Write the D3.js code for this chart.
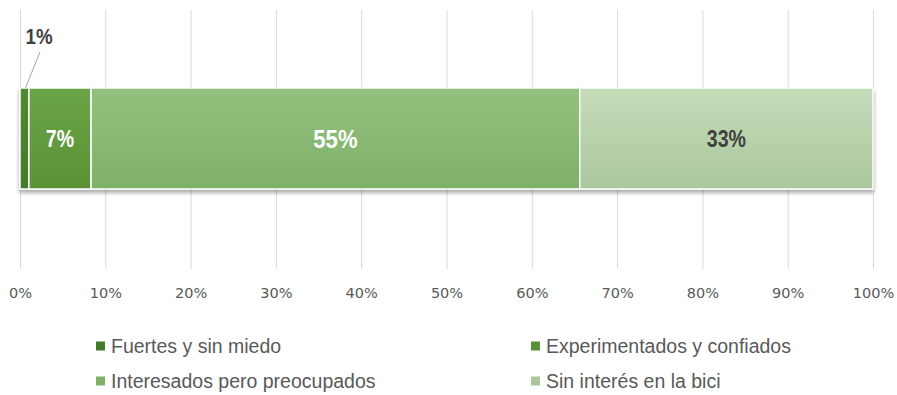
<!DOCTYPE html>
<html>
<head>
<meta charset="utf-8">
<script src="https://cdn.jsdelivr.net/npm/d3@7"></script>
<style>
  html, body { margin: 0; padding: 0; background: #fff; }
  svg { display: block; }
</style>
</head>
<body>
<svg id="chart" width="897" height="395"></svg>
<script>
// Cyclist typology shares (percent as labelled)
const categories = ["Fuertes y sin miedo", "Experimentados y confiados", "Interesados pero preocupados", "Sin interés en la bici"];
const values = [1, 7, 55, 33];
const tickValues = [0, 0.1, 0.2, 0.3, 0.4, 0.5, 0.6, 0.7, 0.8, 0.9, 1.0];
const colorsTop = ["#4f8a31", "#6aa546", "#92c17d", "#c5dcb9"];
const colorsBottom = ["#457a2a", "#5a9236", "#7fb169", "#aac79d"];
const labelColors = ["#404040", "#ffffff", "#ffffff", "#404040"];

const svg = d3.select("#chart");
const W = 897, H = 395;
const margin = { left: 20, right: 24 };

const x = d3.scaleLinear().domain([0, 1]).range([margin.left, W - margin.right]);
const y = d3.scaleBand().domain(["all"]).range([88, 189]).padding(0);

// Normalised stack (100% bar)
const row = {};
categories.forEach((c, i) => row[c] = values[i]);
const stack = d3.stack().keys(categories).offset(d3.stackOffsetExpand);
const series = stack([row]);

const defs = svg.append("defs");
categories.forEach((c, i) => {
  const g = defs.append("linearGradient").attr("id", "grad" + i)
    .attr("x1", 0).attr("y1", 0).attr("x2", 0).attr("y2", 1);
  g.append("stop").attr("offset", "0%").attr("stop-color", colorsTop[i]);
  g.append("stop").attr("offset", "100%").attr("stop-color", colorsBottom[i]);
});
const shadow = defs.append("filter").attr("id", "shadow")
  .attr("x", "-5%").attr("y", "-20%").attr("width", "110%").attr("height", "150%");
shadow.append("feDropShadow").attr("dx", 0).attr("dy", 3).attr("stdDeviation", 2)
  .attr("flood-color", "#000").attr("flood-opacity", 0.35);

// Vertical gridlines
const grid = svg.append("g")
  .attr("transform", `translate(0,${269})`)
  .call(d3.axisBottom(x).tickValues(tickValues).tickSize(-259).tickFormat(""));
grid.select(".domain").remove();
grid.selectAll(".tick line").attr("stroke", "#d9d9d9").attr("stroke-width", 1);

// Tick labels
const axis = svg.append("g")
  .attr("transform", `translate(0,${269})`)
  .call(d3.axisBottom(x).tickValues(tickValues).tickSize(0).tickPadding(19)
    .tickFormat(d3.format(".0%")));
axis.select(".domain").remove();
axis.selectAll("text")
  .attr("fill", "#595959")
  .style("font-family", "'DejaVu Sans', sans-serif")
  .style("font-size", "14.5px");

// Bar segments
const barG = svg.append("g").attr("filter", "url(#shadow)");
barG.selectAll("rect")
  .data(series)
  .join("rect")
  .attr("x", d => x(d[0][0]))
  .attr("width", d => x(d[0][1]) - x(d[0][0]))
  .attr("y", y("all"))
  .attr("height", y.bandwidth())
  .attr("fill", (d, i) => `url(#grad${i})`)
  .attr("stroke", "#ffffff")
  .attr("stroke-width", 1.5);

// Data labels (condensed bold)
const labelFont = "'Liberation Sans', Arial, sans-serif";
const yMid = y("all") + y.bandwidth() / 2;
const fontSizes = [22, 23, 26, 23];
const squeeze = 0.85;
function addLabel(cx, cy, i, dy) {
  svg.append("text")
    .attr("transform", `translate(${cx},${cy}) scale(${squeeze},1)`)
    .attr("dy", dy)
    .attr("text-anchor", "middle")
    .attr("fill", labelColors[i])
    .style("font-family", labelFont)
    .style("font-weight", "bold")
    .style("font-size", fontSizes[i] + "px")
    .text(values[i] + "%");
}
series.forEach((s, i) => {
  const cx = (x(s[0][0]) + x(s[0][1])) / 2;
  if (i === 0) {
    // Outside label with leader line for the thin first segment
    svg.append("line")
      .attr("x1", 40).attr("y1", 52)
      .attr("x2", cx + 1).attr("y2", y("all"))
      .attr("stroke", "#a6a6a6").attr("stroke-width", 1);
    addLabel(39, 44, i, 0);
  } else {
    addLabel(cx, yMid, i, "0.36em");
  }
});

// Legend (2 x 2)
const legendPos = [[96, 346], [531, 346], [96, 381], [531, 381]];
const legend = svg.append("g");
categories.forEach((c, i) => {
  const [lx, ly] = legendPos[i];
  legend.append("rect")
    .attr("x", lx).attr("y", ly - 4.5)
    .attr("width", 9).attr("height", 9)
    .attr("fill", colorsBottom[i]);
  legend.append("text")
    .attr("x", lx + 15).attr("y", ly)
    .attr("dy", "0.35em")
    .attr("fill", "#595959")
    .style("font-family", labelFont)
    .style("font-size", "19.5px")
    .text(c);
});
</script>
</body>
</html>
